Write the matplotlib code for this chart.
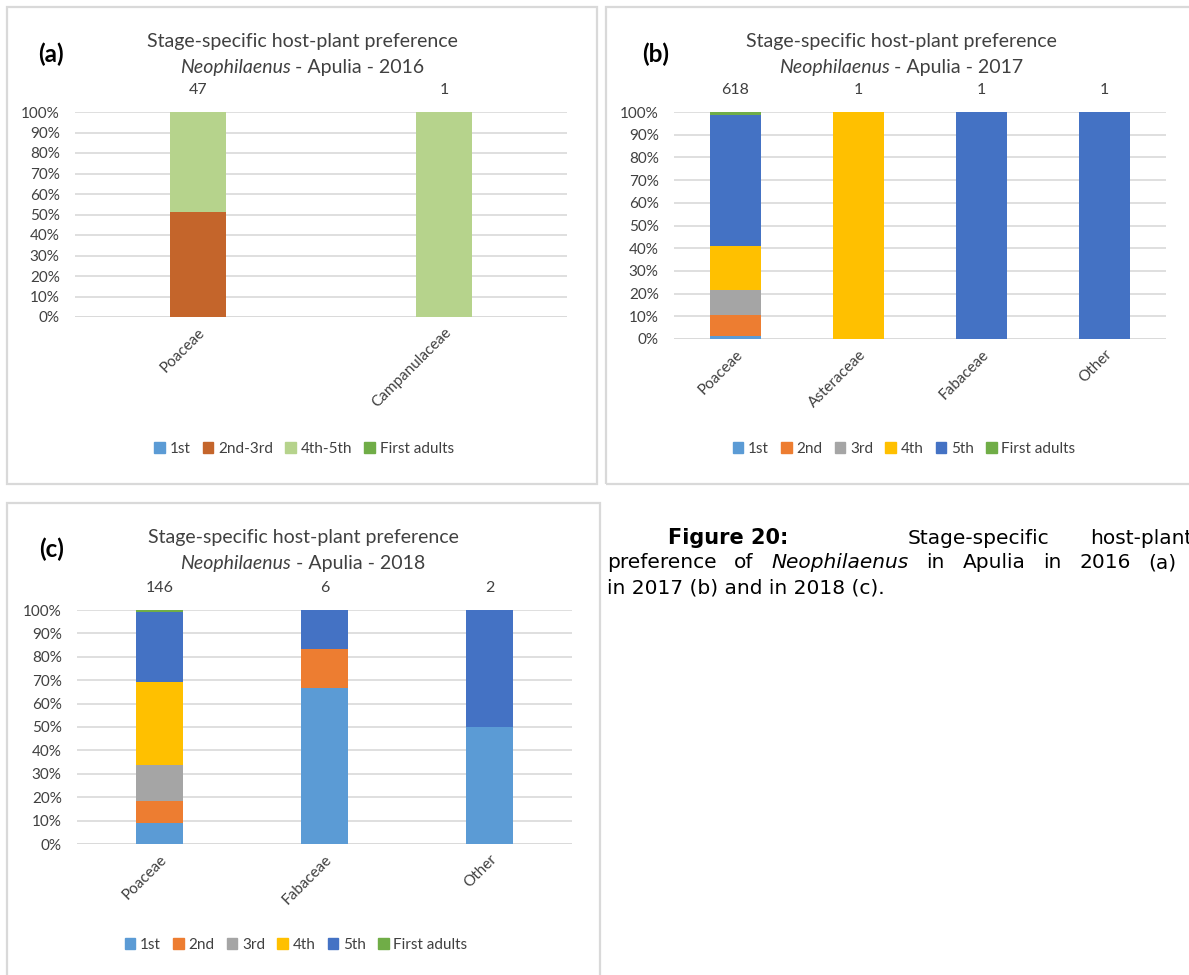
import matplotlib
matplotlib.use('Agg')
import matplotlib.pyplot as plt
import numpy as np
from matplotlib.patches import Patch, Rectangle

W, H = 1189, 975

# panel (a) 2016
a_families = ['Poaceae', 'Campanulaceae']
a_stages = ['1st', '2nd-3rd', '4th-5th', 'First adults']
a_counts = {
    '1st': [0, 0],
    '2nd-3rd': [24, 0],
    '4th-5th': [23, 1],
    'First adults': [0, 0],
}
a_totals = [47, 1]

# panel (b) 2017
b_families = ['Poaceae', 'Asteraceae', 'Fabaceae', 'Other']
b_stages = ['1st', '2nd', '3rd', '4th', '5th', 'First adults']
b_counts = {
    '1st': [9, 0, 0, 0],
    '2nd': [55, 0, 0, 0],
    '3rd': [70, 0, 0, 0],
    '4th': [119, 1, 0, 0],
    '5th': [357, 0, 1, 1],
    'First adults': [8, 0, 0, 0],
}
b_totals = [618, 1, 1, 1]

# panel (c) 2018
c_families = ['Poaceae', 'Fabaceae', 'Other']
c_stages = ['1st', '2nd', '3rd', '4th', '5th', 'First adults']
c_counts = {
    '1st': [13, 4, 1],
    '2nd': [14, 1, 0],
    '3rd': [22, 0, 0],
    '4th': [52, 0, 0],
    '5th': [44, 1, 1],
    'First adults': [1, 0, 0],
}
c_totals = [146, 6, 2]

COLORS = {
    '1st': '#5B9BD5', '2nd': '#ED7D31', '3rd': '#A5A5A5', '4th': '#FFC000',
    '5th': '#4472C4', 'First adults': '#70AD47',
    '2nd-3rd': '#C4652B', '4th-5th': '#B6D38C',
}
CHART_FONT = 'Lato'
CAP_FONT = 'DejaVu Sans'
TXT = '#404040'
GRID = '#D9D9D9'


def fx(px):
    return px / W


def fy(py):
    return 1 - py / H


def runs_text(fig, x, y, runs, size, ha='center', family=CHART_FONT, color=TXT):
    # draw a line made of (text, style, weight) runs, placed in pixels
    renderer = fig.canvas.get_renderer()
    objs = []
    for s, style, weight in runs:
        t = fig.text(0, fy(y), s, fontsize=size, style=style, weight=weight,
                     family=family, color=color, va='center', ha='left')
        objs.append(t)
    widths = [t.get_window_extent(renderer).width for t in objs]
    total = sum(widths)
    start = x - total / 2 if ha == 'center' else x
    for t, w in zip(objs, widths):
        t.set_x(fx(start))
        start += w
    return objs


def justified(fig, x0, x1, y, words, size):
    # spread the words over [x0, x1] like a justified paragraph line
    renderer = fig.canvas.get_renderer()
    objs = [fig.text(0, fy(y), s, fontsize=size, style=st, family=CAP_FONT, color='black',
                     va='center', ha='left') for s, st in words]
    widths = [t.get_window_extent(renderer).width for t in objs]
    gap = (x1 - x0 - sum(widths)) / (len(objs) - 1)
    pos = x0
    for t, w in zip(objs, widths):
        t.set_x(fx(pos))
        pos += w + gap


def panel(fig, box, families, stages, counts, totals, width, tag, year, frame, title_x, title_y,
          legend_x, legend_y, fs=11):
    l, t, r, b = box
    ax = fig.add_axes([fx(l), fy(b), fx(r - l), (b - t) / H])
    tot = np.array(totals, dtype=float)
    x = np.arange(len(families))
    bottom = np.zeros(len(families))
    for st in stages:
        vals = np.array(counts[st], dtype=float) / tot * 100
        ax.bar(x, vals, width, bottom=bottom, color=COLORS[st], zorder=3)
        bottom += vals
    ax.set_xlim(-0.5, len(families) - 0.5)
    ax.set_ylim(0, 100)
    ax.set_yticks(np.arange(0, 101, 10))
    ax.set_yticklabels([f'{v}%' for v in range(0, 101, 10)], family=CHART_FONT, fontsize=fs, color=TXT)
    ax.set_xticks(x)
    ax.set_xticklabels(families, rotation=45, ha='right', rotation_mode='anchor',
                       family=CHART_FONT, fontsize=fs, color=TXT)
    ax.tick_params(length=0, pad=6)
    ax.tick_params(axis='y', pad=11)
    ax.grid(axis='y', color=GRID, lw=1.2, zorder=0)
    for sp in ax.spines.values():
        sp.set_visible(False)
    ax.axhline(0, color=GRID, lw=1.2, zorder=1)
    for i, n in enumerate(totals):
        ax.annotate(str(n), (i, 100), xytext=(0, 16), textcoords='offset points',
                    ha='center', va='center', family=CHART_FONT, fontsize=fs + 0.5, color=TXT)

    fl, ft, fr, fb = frame
    fig.add_artist(Rectangle((fx(fl), fy(fb)), fx(fr - fl), (fb - ft) / H, transform=fig.transFigure,
                             fill=False, edgecolor='#D9D9D9', lw=1.6))
    fig.text(fx(tag[0]), fy(tag[1]), tag[2], fontsize=17.5, weight='bold', family=CHART_FONT,
             color='black', ha='center', va='center')
    runs_text(fig, title_x, title_y, [('Stage-specific host-plant preference', 'normal', 'normal')], 14)
    runs_text(fig, title_x, title_y + 25, [('Neophilaenus', 'italic', 'normal'),
                                          (f' - Apulia - {year}', 'normal', 'normal')], 14)
    handles = [Patch(color=COLORS[s], label=s) for s in stages]
    fig.legend(handles=handles, loc='center', bbox_to_anchor=(fx(legend_x), fy(legend_y)),
               ncol=len(stages), frameon=False, handlelength=0.7, handleheight=0.7,
               handletextpad=0.3, columnspacing=0.8,
               prop={'family': CHART_FONT, 'size': fs}, labelcolor=TXT)
    return ax


fig = plt.figure(figsize=(W / 100, H / 100), dpi=100)
fig.patch.set_facecolor('white')

panel(fig, (75, 112, 567, 317), a_families, a_stages, a_counts, a_totals, 0.23,
      (51, 54, '(a)'), 2016, (7, 7, 597, 484), 302, 42, 304, 449)
panel(fig, (674, 112, 1166, 339), b_families, b_stages, b_counts, b_totals, 0.41,
      (656, 54, '(b)'), 2017, (606, 7, 1200, 484), 901, 42, 904, 449)
panel(fig, (77, 610, 572, 844), c_families, c_stages, c_counts, c_totals, 0.285,
      (52, 549, '(c)'), 2018, (7, 503, 600, 990), 303, 538, 296, 945)

# caption to the right of panel (c), runs past the page edge like the source
cap = 14.5
runs_text(fig, 668, 538, [('Figure 20:', 'normal', 'bold')], cap + 0.5, ha='left', family=CAP_FONT, color='black')
runs_text(fig, 908, 538, [('Stage-specific', 'normal', 'normal')], cap, ha='left', family=CAP_FONT, color='black')
runs_text(fig, 1090, 538, [('host-plant', 'normal', 'normal')], cap, ha='left', family=CAP_FONT, color='black')
justified(fig, 607, 1232, 563, [('preference', 'normal'), ('of', 'normal'), ('Neophilaenus', 'italic'),
                                ('in', 'normal'), ('Apulia', 'normal'), ('in', 'normal'),
                                ('2016', 'normal'), ('(a)', 'normal'), ('and', 'normal')], cap)
runs_text(fig, 607, 588, [('in 2017 (b) and in 2018 (c).', 'normal', 'normal')], cap, ha='left',
          family=CAP_FONT, color='black')

fig.savefig('out.png', dpi=100)
